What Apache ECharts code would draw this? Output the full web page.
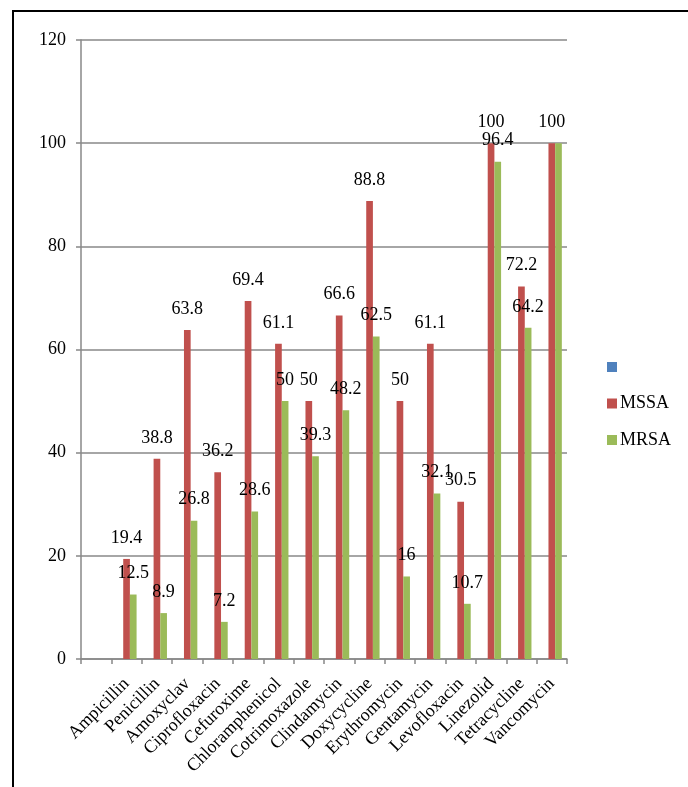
<!DOCTYPE html>
<html>
<head>
<meta charset="utf-8">
<script src="https://cdn.jsdelivr.net/npm/echarts@6/dist/echarts.min.js"></script>
<style>
html, body { margin: 0; padding: 0; background: #fff; }
#chart { position: absolute; left: 0; top: 0; width: 688px; height: 787px; }
#frame { position: absolute; left: 12px; top: 10px; width: 700px; height: 800px;
  border-left: 2px solid #000; border-top: 2px solid #000; pointer-events: none; }
</style>
</head>
<body>
<div id="chart"></div>
<div id="frame"></div>
<script>
const categories = ['', 'Ampicillin', 'Penicillin', 'Amoxyclav', 'Ciprofloxacin', 'Cefuroxime',
  'Chloramphenicol', 'Cotrimoxazole', 'Clindamycin', 'Doxycycline', 'Erythromycin',
  'Gentamycin', 'Levofloxacin', 'Linezolid', 'Tetracycline', 'Vancomycin'];
const blankSeries = [null, null, null, null, null, null, null, null, null, null, null, null, null, null, null, null];
const mssa = [null, 19.4, 38.8, 63.8, 36.2, 69.4, 61.1, 50, 66.6, 88.8, 50, 61.1, 30.5, 100, 72.2, 100];
const mrsa = [null, 12.5, 8.9, 26.8, 7.2, 28.6, 50, 39.3, 48.2, 62.5, 16, 32.1, 10.7, 96.4, 64.2, 100];
const yTicks = { min: 0, max: 120, interval: 20 };
const seriesNames = [' ', 'MSSA', 'MRSA'];
const hiddenMrsaLabel = 'Vancomycin';

const FONT = "'Liberation Serif', 'Times New Roman', serif";
const chart = echarts.init(document.getElementById('chart'), null, { renderer: 'canvas' });

const labelStyle = { show: true, position: 'top', distance: 12, color: '#000', fontFamily: FONT, fontSize: 18 };

chart.setOption({
  animation: false,
  backgroundColor: '#fff',
  grid: { left: 81, right: 121, top: 40, bottom: 128, containLabel: false },
  legend: {
    orient: 'vertical', left: 607, top: 358, padding: 0,
    itemWidth: 10, itemHeight: 10, itemGap: 18.5,
    icon: 'rect',
    textStyle: { fontFamily: FONT, fontSize: 18, color: '#000', padding: [0, 0, 0, -2] },
    data: seriesNames
  },
  xAxis: {
    type: 'category',
    data: categories,
    boundaryGap: true,
    axisLine: { lineStyle: { color: '#888', width: 1.5 } },
    axisTick: { show: true, length: 5, lineStyle: { color: '#888', width: 1.5 } },
    axisLabel: { interval: 0, rotate: 45, margin: 22, color: '#000', fontFamily: FONT, fontSize: 18 }
  },
  yAxis: {
    type: 'value',
    min: yTicks.min, max: yTicks.max, interval: yTicks.interval,
    axisLine: { show: true, lineStyle: { color: '#888', width: 1.5 } },
    axisTick: { show: true, length: 5, lineStyle: { color: '#888', width: 1.5 } },
    splitLine: { show: true, lineStyle: { color: '#888', width: 1.5 } },
    axisLabel: { margin: 15, color: '#000', fontFamily: FONT, fontSize: 18 }
  },
  series: [
    { name: seriesNames[0], type: 'bar', data: blankSeries, itemStyle: { color: '#4F81BD' },
      barGap: '0%', barCategoryGap: '34%' },
    { name: seriesNames[1], type: 'bar', data: mssa, itemStyle: { color: '#C0504D' },
      barGap: '0%', barCategoryGap: '34%', label: labelStyle },
    { name: seriesNames[2], type: 'bar',
      data: mrsa.map((v, i) => categories[i] === hiddenMrsaLabel ? { value: v, label: { show: false } } : v),
      itemStyle: { color: '#9BBB59' },
      barGap: '0%', barCategoryGap: '34%', label: labelStyle }
  ]
});
</script>
</body>
</html>
